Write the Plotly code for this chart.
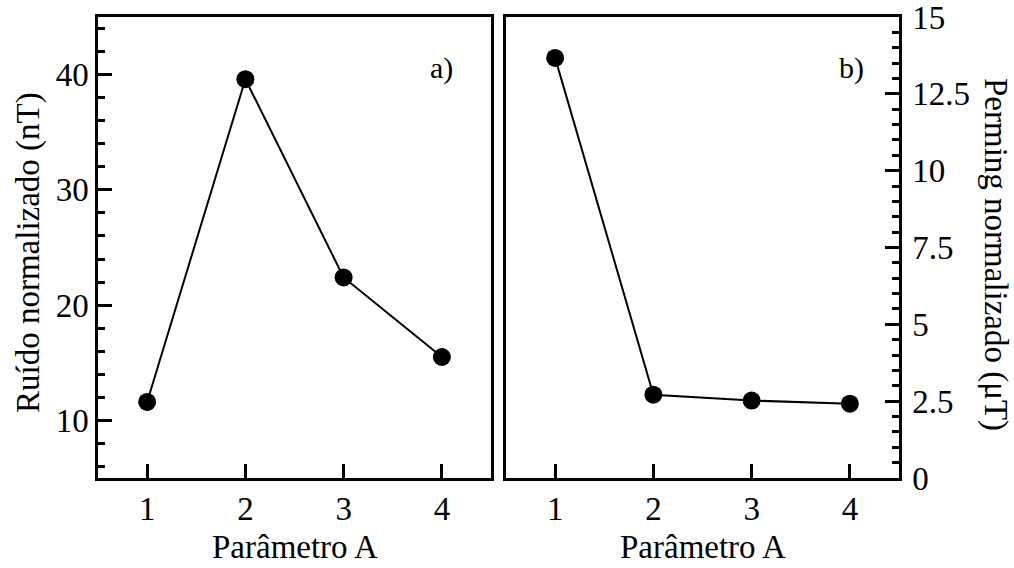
import plotly.graph_objects as go
from plotly.subplots import make_subplots

# Parameter values and measured responses
param_a = [1, 2, 3, 4]
ruido_nt = [11.6, 39.6, 22.4, 15.5]
perming_ut = [13.67, 2.71, 2.52, 2.42]

x_ticks = [1, 2, 3, 4]
ruido_ticks = [10, 20, 30, 40]
perming_ticks = [0, 2.5, 5, 7.5, 10, 12.5, 15]

FONT = "Liberation Serif, Times New Roman, serif"
FS = 33
W, H = 1014, 568

fig = make_subplots(rows=1, cols=2)

marker = dict(size=18, color="black")
line = dict(color="black", width=2)

fig.add_trace(go.Scatter(x=param_a, y=ruido_nt, mode="lines+markers",
                         marker=marker, line=line, showlegend=False), row=1, col=1)
fig.add_trace(go.Scatter(x=param_a, y=perming_ut, mode="lines+markers",
                         marker=marker, line=line, showlegend=False), row=1, col=2)

y0, y1 = (H - 478) / H, (H - 17) / H
axis_common = dict(showline=True, linecolor="black", linewidth=2.5, mirror=True,
                   ticks="inside", tickcolor="black", tickwidth=2.5, ticklen=14,
                   showgrid=False, zeroline=False, automargin=False,
                   ticklabeloverflow="allow",
                   tickfont=dict(family=FONT, size=FS, color="black"))

fig.update_xaxes(**axis_common, range=[0.5, 4.5], tickvals=x_ticks,
                 ticklabelstandoff=0)
fig.update_xaxes(domain=[98 / W, 491 / W], row=1, col=1)
fig.update_xaxes(domain=[506 / W, 899 / W], row=1, col=2)

fig.update_yaxes(**axis_common, domain=[y0, y1])
fig.update_yaxes(range=[5, 45], tickvals=ruido_ticks, ticklabelstandoff=0,
                 minor=dict(dtick=2, tick0=0, ticks="inside", ticklen=7,
                            tickwidth=2.5, tickcolor="black", showgrid=False),
                 row=1, col=1)
fig.update_yaxes(range=[0, 15], tickvals=perming_ticks,
                 ticktext=[f"{v:g}" for v in perming_ticks],
                 side="right", ticklabelstandoff=4,
                 minor=dict(dtick=0.5, tick0=0, ticks="inside", ticklen=7,
                            tickwidth=2.5, tickcolor="black", showgrid=False),
                 row=1, col=2)

tfont = dict(family=FONT, size=FS, color="black")


def label(text, x, y, angle=0, font=tfont):
    return dict(text=text, x=x / W, y=(H - y) / H, textangle=angle,
                xref="paper", yref="paper", xanchor="center", yanchor="middle",
                showarrow=False, font=font)


annotations = [
    label("Parâmetro A", (98 + 491) / 2, 547),
    label("Parâmetro A", (506 + 899) / 2, 547),
    label("Ruído normalizado (nT)", 28, 253, -90),
    label("Perming normalizado (μT)", 995, 254, 90),
    label("a)", 441, 68, font=dict(family=FONT, size=30, color="black")),
    label("b)", 851, 68, font=dict(family=FONT, size=30, color="black")),
]

fig.update_layout(width=W, height=H, margin=dict(l=0, r=0, t=0, b=0),
                  paper_bgcolor="white", plot_bgcolor="white",
                  annotations=annotations)

fig.write_html("out.html")
